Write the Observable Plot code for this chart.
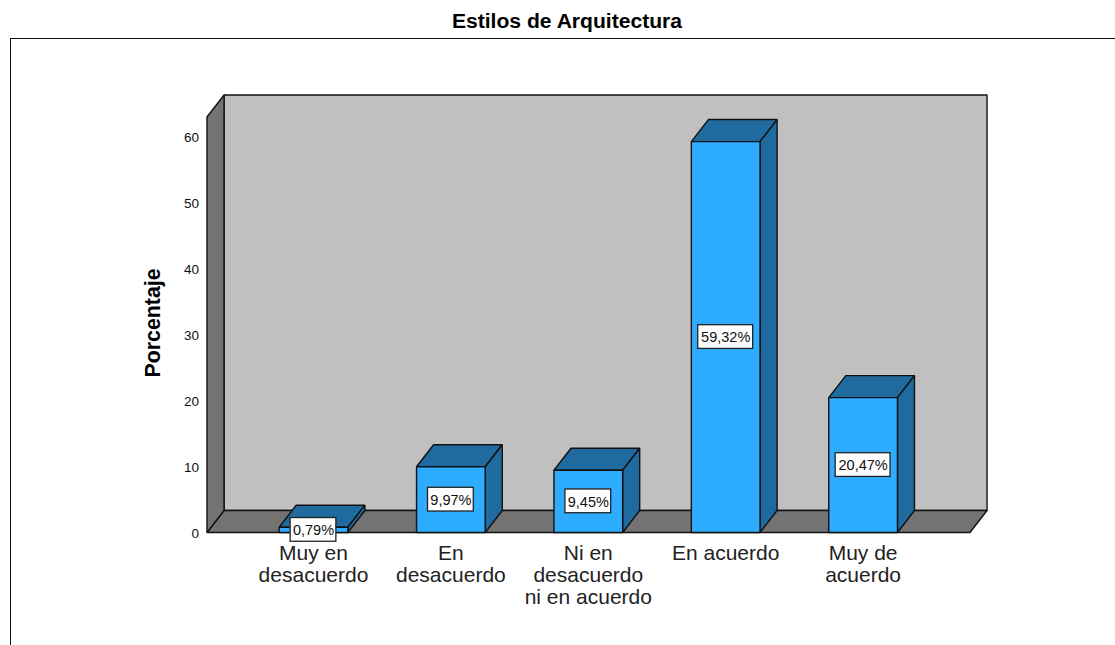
<!DOCTYPE html>
<html lang="es">
<head>
<meta charset="utf-8">
<script src="https://cdn.jsdelivr.net/npm/d3@7"></script>
<script src="https://cdn.jsdelivr.net/npm/@observablehq/plot@0.6"></script>
<style>
  html, body { margin: 0; padding: 0; background: #fff; overflow: hidden; }
  #page { position: relative; width: 1115px; height: 645px; overflow: hidden; }
  #title { height: 38px; box-sizing: border-box; padding-top: 9px; text-align: center; padding-left: 19px;
           font: bold 21.1px/24px "Liberation Sans", Arial, sans-serif; color: #000; }
  #frame { position: absolute; left: 10px; top: 38px; right: -4px; bottom: -4px;
           border: 1px solid #111; pointer-events: none; }
  svg { display: block; }
</style>
</head>
<body>
<div id="page">
  <div id="title">Estilos de Arquitectura</div>
  <div id="chart"></div>
  <div id="frame"></div>
</div>
<script>
const categories = ["Muy en\ndesacuerdo", "En\ndesacuerdo", "Ni en\ndesacuerdo\nni en acuerdo", "En acuerdo", "Muy de\nacuerdo"];
const values = [0.79, 9.97, 9.45, 59.32, 20.47];
const valueLabels = ["0,79%", "9,97%", "9,45%", "59,32%", "20,47%"];
const yTicks = [0, 10, 20, 30, 40, 50, 60];

// Chart geometry, in data units
const depthX = 0.124, depthY = 3.34;
const barHalf = 0.25;
const xMin = -0.775, xMax = 4.778, yMax = 63.05;

const FRONT = "#2eacff", SHADE = "#1f6a9e", WALL = "#c0c0c0", FLOOR = "#737373", INK = "#111";
const FONT = '"Liberation Sans", Arial, sans-serif';

// A filled polygon from [x, y] vertices in data space
const face = (pts, fill) => Plot.line(pts, {
  x: d => d[0], y: d => d[1], fill, stroke: INK, strokeWidth: 1.4,
  curve: "linear-closed", strokeLinejoin: "miter"
});

const rows = categories.map((c, i) => ({i, c, v: values[i], label: valueLabels[i]}));

const chart = Plot.plot({
  width: 1115,
  height: 607,
  marginLeft: 206.5,
  marginRight: 145.5,
  marginTop: 78.5,
  marginBottom: 113,
  style: {background: "transparent", fontFamily: FONT, color: "#111"},
  x: {type: "linear", domain: [xMin, xMax], axis: null},
  y: {domain: [0, yMax], axis: null},
  marks: [
    // back wall
    face([[xMin + depthX, depthY], [xMax + depthX, depthY], [xMax + depthX, yMax + depthY], [xMin + depthX, yMax + depthY]], WALL),
    // floor
    face([[xMin, 0], [xMax, 0], [xMax + depthX, depthY], [xMin + depthX, depthY]], FLOOR),
    // left wall
    face([[xMin, 0], [xMin + depthX, depthY], [xMin + depthX, yMax + depthY], [xMin, yMax]], FLOOR),
    // bars
    ...rows.flatMap(r => [
      face([[r.i - barHalf, r.v], [r.i + barHalf, r.v], [r.i + barHalf + depthX, r.v + depthY], [r.i - barHalf + depthX, r.v + depthY]], SHADE),
      face([[r.i + barHalf, 0], [r.i + barHalf + depthX, depthY], [r.i + barHalf + depthX, r.v + depthY], [r.i + barHalf, r.v]], SHADE),
      face([[r.i - barHalf, 0], [r.i + barHalf, 0], [r.i + barHalf, r.v], [r.i - barHalf, r.v]], FRONT)
    ]),
    // value label boxes
    Plot.rect(rows, {
      x1: d => d.i - d.label.length * 0.0333,
      x2: d => d.i + d.label.length * 0.0333,
      y1: d => d.v / 2 - 1.8,
      y2: d => d.v / 2 + 1.8,
      fill: "#fff", stroke: "#222", strokeWidth: 1.3
    }),
    Plot.text(rows, {
      x: "i", y: d => d.v / 2, text: "label", dy: 0.5,
      fontSize: 14.5, fill: "#111", textAnchor: "middle"
    }),
    // y axis labels
    Plot.text(yTicks, {
      x: xMin, y: d => d, text: d => String(d),
      textAnchor: "end", dx: -8, dy: 1, fontSize: 13.5, fill: "#111"
    }),
    // x axis labels
    Plot.text(rows, {
      x: "i", y: 0, text: "c", lineAnchor: "top", dy: 11.5,
      fontSize: 21, lineHeight: 1.05, fill: "#222", textAnchor: "middle"
    }),
    // y axis title
    Plot.text(["Porcentaje"], {
      x: xMin, y: 31.8, text: d => d, rotate: -90, dx: -54,
      fontSize: 21.3, fontWeight: "bold", fill: "#000", textAnchor: "middle"
    })
  ]
});
document.getElementById("chart").appendChild(chart);
</script>
</body>
</html>
